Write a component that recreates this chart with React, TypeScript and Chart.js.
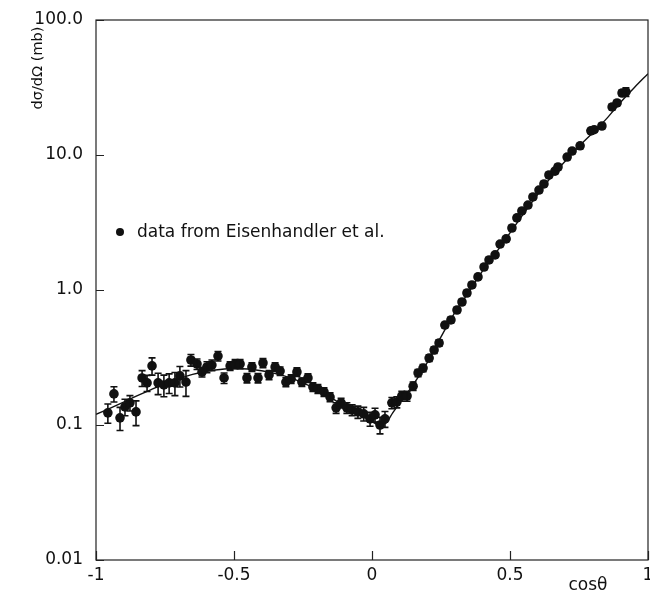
import { useEffect, useRef } from "react";
import { Chart, registerables } from "chart.js";

Chart.register(...registerables);

// ---- data ----
const cosTheta = [
  -0.957, -0.935, -0.913, -0.895, -0.877, -0.855, -0.833, -0.815, -0.797, -0.775,
  -0.754, -0.735, -0.714, -0.696, -0.674, -0.656, -0.634, -0.616, -0.598, -0.58,
  -0.558, -0.536, -0.514, -0.496, -0.478, -0.453, -0.435, -0.413, -0.395, -0.373,
  -0.351, -0.333, -0.312, -0.293, -0.272, -0.254, -0.232, -0.214, -0.196, -0.174,
  -0.152, -0.13, -0.112, -0.091, -0.072, -0.051, -0.03, -0.007, 0.011, 0.029,
  0.047, 0.072, 0.09, 0.108, 0.127, 0.149, 0.167, 0.185, 0.207, 0.225,
  0.243, 0.264, 0.286, 0.308, 0.326, 0.344, 0.362, 0.384, 0.406, 0.424,
  0.446, 0.464, 0.486, 0.507, 0.525, 0.543, 0.565, 0.583, 0.605, 0.623,
  0.641, 0.663, 0.674, 0.707, 0.725, 0.754, 0.793, 0.805, 0.833, 0.87,
  0.888, 0.906, 0.92,
];
const crossSection = [
  0.123, 0.17, 0.113, 0.136, 0.146, 0.125, 0.223, 0.205, 0.274, 0.205,
  0.198, 0.205, 0.205, 0.231, 0.208, 0.303, 0.283, 0.247, 0.269, 0.278,
  0.324, 0.223, 0.274, 0.283, 0.283, 0.223, 0.269, 0.223, 0.288, 0.235,
  0.269, 0.251, 0.208, 0.219, 0.247, 0.208, 0.223, 0.191, 0.185, 0.176,
  0.161, 0.134, 0.146, 0.134, 0.129, 0.125, 0.121, 0.111, 0.119, 0.1,
  0.111, 0.146, 0.148, 0.164, 0.164, 0.194, 0.243, 0.264, 0.313, 0.359,
  0.405, 0.55, 0.6, 0.711, 0.815, 0.95, 1.09, 1.25, 1.48, 1.67,
  1.82, 2.19, 2.39, 2.88, 3.42, 3.85, 4.26, 4.89, 5.5, 6.1,
  7.11, 7.6, 8.15, 9.66, 10.7, 11.7, 15.1, 15.4, 16.4, 22.7,
  24.3, 28.8, 29.3,
];
const crossSectionErr = [
  0.02, 0.022, 0.022, 0.019, 0.019, 0.026, 0.03, 0.028, 0.04, 0.037,
  0.036, 0.034, 0.04, 0.04, 0.045, 0.03, 0.025, 0.02, 0.025, 0.025,
  0.026, 0.02, 0.02, 0.022, 0.022, 0.018, 0.02, 0.018, 0.022, 0.018,
  0.02, 0.018, 0.016, 0.016, 0.018, 0.015, 0.016, 0.014, 0.014, 0.013,
  0.012, 0.012, 0.012, 0.012, 0.012, 0.013, 0.014, 0.013, 0.014, 0.014,
  0.015, 0.014, 0.014, 0.014, 0.014, 0.014, 0.015, 0.016, 0.018, 0.02,
  0.022, 0.025, 0.028, 0.03, 0.035, 0.04, 0.045, 0.05, 0.06, 0.07,
  0.07, 0.09, 0.1, 0.12, 0.14, 0.15, 0.17, 0.2, 0.22, 0.25,
  0.3, 0.3, 0.35, 0.4, 0.45, 0.5, 0.6, 0.6, 0.7, 1.0,
  1.0, 1.3, 2.2,
];
const curveCos = [
  -1, -0.95, -0.9, -0.85, -0.8, -0.75, -0.7, -0.65, -0.6, -0.55,
  -0.5, -0.45, -0.4, -0.35, -0.3, -0.25, -0.2, -0.15, -0.1, -0.05,
  0, 0.025, 0.05, 0.075, 0.1, 0.15, 0.2, 0.25, 0.3, 0.35,
  0.4, 0.45, 0.5, 0.55, 0.6, 0.65, 0.7, 0.75, 0.8, 0.85,
  0.9, 0.95, 1,
];
const curveValues = [
  0.12, 0.133, 0.148, 0.165, 0.183, 0.202, 0.22, 0.237, 0.25, 0.258,
  0.262, 0.26, 0.252, 0.24, 0.225, 0.205, 0.183, 0.16, 0.138, 0.121,
  0.106, 0.1, 0.103, 0.123, 0.145, 0.2, 0.29, 0.45, 0.68, 0.96,
  1.38, 1.9, 2.65, 3.7, 5.1, 6.9, 9.0, 11.6, 14.6, 18.6,
  24.5, 31.5, 40,
];
const yTickValues = [0.01, 0.1, 1, 10, 100];
const yTickLabels = ["0.01", "0.1", "1.0", "10.0", "100.0"];
const xTickValues = [-1, -0.5, 0, 0.5, 1];
const xTickLabels = ["-1", "-0.5", "0", "0.5", "1"];
const legendLabel = "data from Eisenhandler et al.";
const yTitle = "dσ/dΩ (mb)";
const xTitle = "cosθ";

const FONT = "'DejaVu Sans', 'Liberation Sans', sans-serif";
const INK = "#111";

const decorPlugin = {
  id: "decor",
  afterDatasetsDraw(chart: any) {
    const ctx = chart.ctx;
    const xs = chart.scales.x;
    const ys = chart.scales.y;
    const a = chart.chartArea;
    ctx.save();
    // error bars
    ctx.strokeStyle = INK;
    ctx.lineWidth = 1.6;
    cosTheta.forEach((c, i) => {
      const px = xs.getPixelForValue(c);
      const v = crossSection[i];
      const e = crossSectionErr[i];
      const yTop = ys.getPixelForValue(v + e);
      const yBot = ys.getPixelForValue(Math.max(v - e, 0.011));
      ctx.beginPath();
      ctx.moveTo(px, yTop);
      ctx.lineTo(px, yBot);
      ctx.moveTo(px - 3.5, yTop);
      ctx.lineTo(px + 3.5, yTop);
      ctx.moveTo(px - 3.5, yBot);
      ctx.lineTo(px + 3.5, yBot);
      ctx.stroke();
    });
    // frame
    ctx.strokeStyle = "#222";
    ctx.lineWidth = 1.2;
    ctx.strokeRect(a.left, a.top, a.right - a.left, a.bottom - a.top);
    // inward ticks
    ctx.beginPath();
    yTickValues.forEach((v) => {
      const py = Math.round(ys.getPixelForValue(v)) + 0.5;
      ctx.moveTo(a.left, py);
      ctx.lineTo(a.left + 8, py);
    });
    xTickValues.forEach((v) => {
      const px = Math.round(xs.getPixelForValue(v)) + 0.5;
      ctx.moveTo(px, a.bottom);
      ctx.lineTo(px, a.bottom - 9);
    });
    ctx.stroke();
    // legend
    ctx.fillStyle = INK;
    ctx.beginPath();
    ctx.arc(120, 232, 4, 0, Math.PI * 2);
    ctx.fill();
    ctx.font = `17px ${FONT}`;
    ctx.textAlign = "left";
    ctx.textBaseline = "middle";
    ctx.fillText(legendLabel, 137, 233);
    // x title
    ctx.textAlign = "center";
    ctx.fillText(xTitle, 588, 586);
    // y title
    ctx.font = `14.5px ${FONT}`;
    ctx.translate(38, 68);
    ctx.rotate(-Math.PI / 2);
    ctx.fillText(yTitle, 0, 0);
    ctx.restore();
  },
};

export default function App() {
  const ref = useRef<HTMLCanvasElement | null>(null);
  useEffect(() => {
    if (!ref.current) return;
    const chart = new Chart(ref.current, {
      type: "scatter",
      data: {
        datasets: [
          {
            type: "line",
            data: curveCos.map((x, i) => ({ x, y: curveValues[i] })),
            borderColor: INK,
            borderWidth: 1.4,
            pointRadius: 0,
            cubicInterpolationMode: "monotone",
            fill: false,
            order: 2,
          } as any,
          {
            type: "scatter",
            data: cosTheta.map((x, i) => ({ x, y: crossSection[i] })),
            backgroundColor: INK,
            borderColor: INK,
            borderWidth: 0,
            pointRadius: 4.8,
            order: 1,
          } as any,
        ],
      },
      options: {
        animation: false,
        responsive: false,
        layout: { autoPadding: false, padding: { left: 0, right: 2, top: 20, bottom: 0 } },
        plugins: { legend: { display: false }, tooltip: { enabled: false } },
        scales: {
          x: {
            type: "linear",
            min: -1,
            max: 1,
            afterBuildTicks: (s: any) => {
              s.ticks = xTickValues.map((v) => ({ value: v }));
            },
            afterFit: (s: any) => {
              s.height = 34;
              s.paddingLeft = 0;
              s.paddingRight = 0;
            },
            ticks: {
              callback: (v: any) => {
                const i = xTickValues.indexOf(Number(v));
                return i >= 0 ? xTickLabels[i] : "";
              },
              font: { family: FONT, size: 17 },
              color: INK,
              padding: 5,
              maxRotation: 0,
              autoSkip: false,
            },
            grid: { display: false, drawTicks: false },
            border: { display: false },
          },
          y: {
            type: "logarithmic",
            min: 0.01,
            max: 100,
            afterBuildTicks: (s: any) => {
              s.ticks = yTickValues.map((v) => ({ value: v, major: true }));
            },
            afterFit: (s: any) => {
              s.width = 96;
              s.paddingTop = 0;
              s.paddingBottom = 0;
            },
            ticks: {
              callback: (v: any) => {
                const i = yTickValues.findIndex((t) => Math.abs(t - Number(v)) < t * 1e-6);
                return i >= 0 ? yTickLabels[i] : "";
              },
              font: { family: FONT, size: 17 },
              color: INK,
              padding: 13,
              autoSkip: false,
            },
            grid: { display: false, drawTicks: false },
            border: { display: false },
          },
        },
      } as any,
      plugins: [decorPlugin],
    });
    return () => chart.destroy();
  }, []);
  return (
    <div style={{ position: "absolute", left: 0, top: 0, width: 650, height: 594, background: "#fff" }}>
      <canvas ref={ref} width={650} height={594} style={{ width: 650, height: 594, display: "block" }} />
    </div>
  );
}
